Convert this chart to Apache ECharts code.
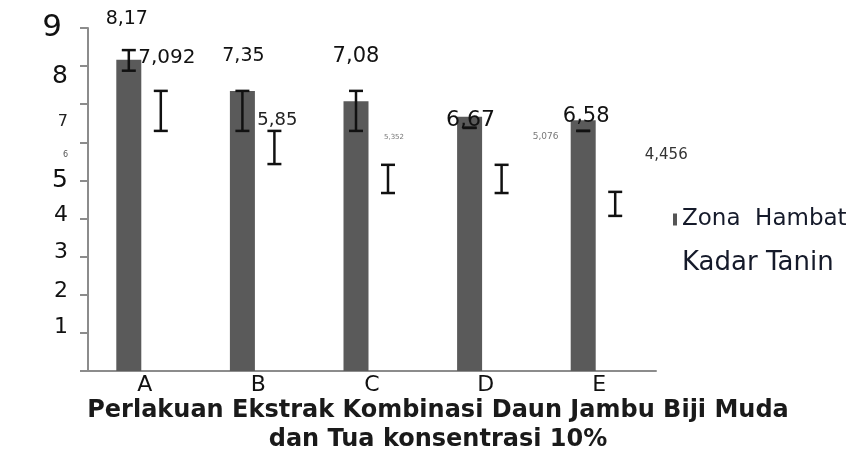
<!DOCTYPE html>
<html>
<head>
<meta charset="utf-8">
<script src="https://cdn.jsdelivr.net/npm/echarts@6/dist/echarts.min.js"></script>
<style>html,body{margin:0;padding:0;background:#fff}#c{width:849px;height:464px}</style>
</head>
<body>
<div id="c"></div>
<script>
// ---- data ----
const categories = ['A', 'B', 'C', 'D', 'E'];
const zonaHambat = [8.17, 7.35, 7.08, 6.67, 6.58];
const kadarTanin = [7.092, 5.85, 5.352, 5.076, 4.456];
// error bar ends [low, high]
const zonaErrLow  = [7.88, 6.30, 6.30, 6.38, 6.30];
const zonaErrHigh = [8.42, 7.35, 7.35, 6.38, 6.30];
const tanErrLow   = [6.30, 5.43, 4.67, 4.67, 4.07];
const tanErrHigh  = [7.35, 6.30, 5.41, 5.41, 4.70];
const yTicks = [0, 1, 2, 3, 4, 5, 6, 7, 8, 9];
const seriesNames = ['Zona  Hambat', 'Kadar Tanin'];
const xTitle = 'Perlakuan Ekstrak Kombinasi Daun Jambu Biji Muda\ndan Tua konsentrasi 10%';

// ---- styling ----
const FONT = 'DejaVu Sans';
const BAR_W = 25, BAR_GAP_PX = 7;
const HALF = (BAR_W + BAR_GAP_PX) / 2;
const zonaLabelStyle = [
  {offset: [-2, -41], fontSize: 19},
  {offset: [1, -35], fontSize: 19},
  {offset: [0, -45], fontSize: 21},
  {offset: [1, 3], fontSize: 22},
  {offset: [3, -4], fontSize: 21}
];
const tanLabelStyle = [
  {offset: [6, -43], fontSize: 20, color: '#111'},
  {offset: [3, -28], fontSize: 18, color: '#222'},
  {offset: [6, -30], fontSize: 7, color: '#777'},
  {offset: [44, -41], fontSize: 9, color: '#777'},
  {offset: [51, -46], fontSize: 15, color: '#333'}
];
const yRich = {
  t9: {fontSize: 31, fontFamily: FONT, color: '#111', padding: [0, 6, 0, 0]},
  t8: {fontSize: 25, fontFamily: FONT, color: '#111', padding: [20, 0, 0, 0]},
  t7: {fontSize: 16, fontFamily: FONT, color: '#222', padding: [36, 0, 0, 0]},
  t6: {fontSize: 8, fontFamily: FONT, color: '#555', padding: [26, 0, 0, 0]},
  t5: {fontSize: 25, fontFamily: FONT, color: '#111'},
  t4: {fontSize: 22, fontFamily: FONT, color: '#111', padding: [0, 0, 6, 0]},
  t3: {fontSize: 22, fontFamily: FONT, color: '#111', padding: [0, 0, 8, 0]},
  t2: {fontSize: 22, fontFamily: FONT, color: '#111', padding: [0, 0, 6, 0]},
  t1: {fontSize: 22, fontFamily: FONT, color: '#111', padding: [0, 0, 12, 0]}
};

const fmt = v => String(v).replace('.', ',');

function errSeries(name, lows, highs, dx) {
  return {
    type: 'custom',
    name: name + '_err',
    silent: true,
    z: 10,
    data: categories.map((c, i) => [i, lows[i], highs[i]]),
    renderItem: function (params, api) {
      const lo = api.coord([api.value(0), api.value(1)]);
      const hi = api.coord([api.value(0), api.value(2)]);
      const x = lo[0] + dx;
      const cap = 7;
      const st = {stroke: '#111', lineWidth: 2.5};
      return {
        type: 'group',
        children: [
          {type: 'line', shape: {x1: x, y1: lo[1], x2: x, y2: hi[1]}, style: st},
          {type: 'line', shape: {x1: x - cap, y1: lo[1], x2: x + cap, y2: lo[1]}, style: st},
          {type: 'line', shape: {x1: x - cap, y1: hi[1], x2: x + cap, y2: hi[1]}, style: st}
        ]
      };
    }
  };
}

const chart = echarts.init(document.getElementById('c'));
chart.setOption({
  animation: false,
  backgroundColor: '#fff',
  textStyle: {fontFamily: FONT},
  title: {
    text: xTitle,
    left: 433,
    top: 391,
    textAlign: 'center',
    textStyle: {fontFamily: FONT, fontSize: 24, fontWeight: 'bold', color: '#1a1a1a', lineHeight: 29}
  },
  legend: {
    orient: 'vertical',
    left: 668,
    top: 203,
    itemGap: 19,
    itemWidth: 4,
    itemHeight: 12,
    data: [
      {name: seriesNames[0], icon: 'rect', itemStyle: {color: '#555'}, textStyle: {fontSize: 23}},
      {name: seriesNames[1], icon: 'rect', itemStyle: {color: 'rgba(255,255,255,0)'}, textStyle: {fontSize: 26}}
    ],
    textStyle: {fontFamily: FONT, fontSize: 23, color: '#151a2a'}
  },
  grid: {left: 88, right: 193, top: 28, bottom: 93, containLabel: false},
  xAxis: {
    type: 'category',
    data: categories,
    axisTick: {show: false},
    axisLine: {lineStyle: {color: '#8c8c8c', width: 2}},
    axisLabel: {fontFamily: FONT, fontSize: 22, color: '#111', margin: 3}
  },
  yAxis: {
    type: 'value',
    min: 0,
    max: 9,
    interval: 1,
    splitLine: {show: false},
    axisLine: {show: true, lineStyle: {color: '#8c8c8c', width: 2}},
    axisTick: {show: true, length: 8, lineStyle: {color: '#8c8c8c', width: 2}},
    axisLabel: {
      margin: 20,
      formatter: v => (v === 0 ? '' : '{t' + v + '|' + v + '}'),
      rich: yRich
    }
  },
  series: [
    {
      name: seriesNames[0],
      type: 'bar',
      barWidth: BAR_W,
      barGap: (BAR_GAP_PX / BAR_W * 100) + '%',
      itemStyle: {color: '#5a5a5a'},
      label: {show: true, position: 'top', distance: 0, verticalAlign: 'middle', color: '#111', fontFamily: FONT, formatter: p => fmt(p.value)},
      data: zonaHambat.map((v, i) => ({value: v, label: zonaLabelStyle[i]}))
    },
    {
      name: seriesNames[1],
      type: 'bar',
      barWidth: BAR_W,
      itemStyle: {color: 'rgba(255,255,255,0)'},
      label: {show: true, position: 'top', distance: 0, verticalAlign: 'middle', fontFamily: FONT, formatter: p => fmt(p.value)},
      data: kadarTanin.map((v, i) => ({value: v, label: tanLabelStyle[i]}))
    },
    errSeries('zona', zonaErrLow, zonaErrHigh, -HALF),
    errSeries('tanin', tanErrLow, tanErrHigh, HALF)
  ]
});
</script>
</body>
</html>
